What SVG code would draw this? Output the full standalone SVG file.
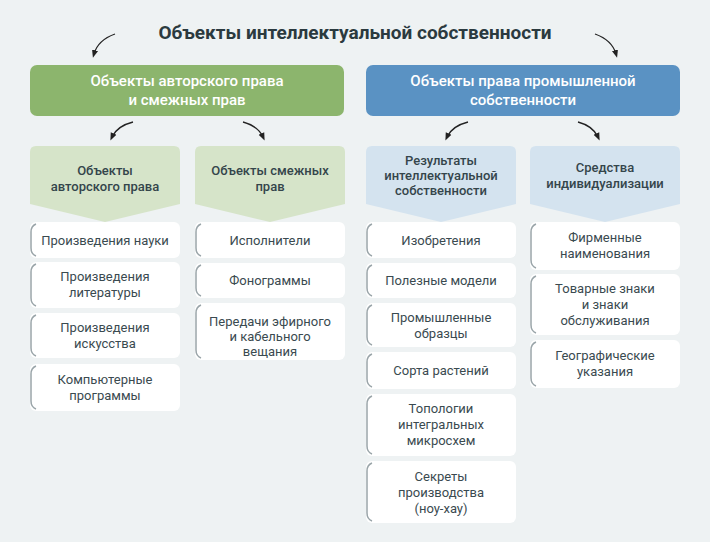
<svg xmlns="http://www.w3.org/2000/svg" width="710" height="542" viewBox="0 0 710 542">
<defs>
<marker id="ah" viewBox="0 0 10 10" refX="5" refY="5" markerWidth="6" markerHeight="6" orient="auto"><path d="M0,1 L10,5 L0,9 Z" fill="#222"/></marker>
<style>
text{font-family:"Roboto","Liberation Sans",sans-serif;text-anchor:middle}
.t{font-size:19px;font-weight:bold;fill:#2b3a3f}
.h{font-size:15px;font-weight:500;fill:#fff}
.p{font-size:13px;font-weight:500;fill:#34454b}
.c{font-size:13px;fill:#3a4a50}
.card{fill:#fff}
.lb{fill:none;stroke:#9aa5a9;stroke-width:1.5}
.ar{fill:none;stroke:#222;stroke-width:1.3;marker-end:url(#ah)}
</style>
</defs>
<rect width="710" height="542" fill="#eef2f3"/>
<g id="title"><text class="t" x="355" y="39">Объекты интеллектуальной собственности</text></g>
<g id="connectors">
<path class="ar" d="M115,34 Q98,40 94,54"/>
<path class="ar" d="M595,34 Q612,40 616,54"/>
<path class="ar" d="M133,122 Q117,126 112,137"/>
<path class="ar" d="M243,122 Q258,126 263,137"/>
<path class="ar" d="M468,122 Q452,126 447,137"/>
<path class="ar" d="M578,122 Q593,126 598,137"/>
</g>
<g id="green"><rect x="30" y="65" width="314" height="51" rx="7" fill="#8cb56d"/><text class="h" x="187" y="86">Объекты авторского права</text><text class="h" x="187" y="105">и смежных прав</text></g>
<g id="blue"><rect x="366" y="65" width="314" height="51" rx="7" fill="#5a92c3"/><text class="h" x="523" y="86">Объекты права промышленной</text><text class="h" x="523" y="105">собственности</text></g>
<g id="p1"><path d="M36,146 H174 Q180,146 180,152 V204 L105,222 L30,204 V152 Q30,146 36,146 Z" fill="#d6e4c9"/><text class="p" x="105" y="175">Объекты</text><text class="p" x="105" y="191">авторского права</text></g>
<g id="p2"><path d="M201,146 H339 Q345,146 345,152 V204 L270,222 L195,204 V152 Q195,146 201,146 Z" fill="#d6e4c9"/><text class="p" x="270" y="175">Объекты смежных</text><text class="p" x="270" y="191">прав</text></g>
<g id="p3"><path d="M372,146 H510 Q516,146 516,152 V204 L441,222 L366,204 V152 Q366,146 372,146 Z" fill="#d4e3ef"/><text class="p" x="441" y="165">Результаты</text><text class="p" x="441" y="180">интеллектуальной</text><text class="p" x="441" y="195">собственности</text></g>
<g id="p4"><path d="M536,146 H674 Q680,146 680,152 V204 L605,222 L530,204 V152 Q530,146 536,146 Z" fill="#d4e3ef"/><text class="p" x="605" y="172">Средства</text><text class="p" x="605" y="188">индивидуализации</text></g>
<g id="c1a"><rect class="card" x="30" y="222" width="150" height="36" rx="6"/><path class="lb" d="M36,224 Q31,226 31,232 V248 Q31,254 36,256"/><text class="c" x="105" y="245">Произведения науки</text></g>
<g id="c1b"><rect class="card" x="30" y="262" width="150" height="46" rx="6"/><path class="lb" d="M36,264 Q31,266 31,272 V298 Q31,304 36,306"/><text class="c" x="105" y="281">Произведения</text><text class="c" x="105" y="297">литературы</text></g>
<g id="c1c"><rect class="card" x="30" y="313" width="150" height="45" rx="6"/><path class="lb" d="M36,315 Q31,317 31,323 V348 Q31,354 36,356"/><text class="c" x="105" y="332">Произведения</text><text class="c" x="105" y="348">искусства</text></g>
<g id="c1d"><rect class="card" x="30" y="364" width="150" height="47" rx="6"/><path class="lb" d="M36,366 Q31,368 31,374 V401 Q31,407 36,409"/><text class="c" x="105" y="384">Компьютерные</text><text class="c" x="105" y="400">программы</text></g>
<g id="c2a"><rect class="card" x="195" y="222" width="150" height="36" rx="6"/><path class="lb" d="M201,224 Q196,226 196,232 V248 Q196,254 201,256"/><text class="c" x="270" y="245">Исполнители</text></g>
<g id="c2b"><rect class="card" x="195" y="263" width="150" height="35" rx="6"/><path class="lb" d="M201,265 Q196,267 196,273 V288 Q196,294 201,296"/><text class="c" x="270" y="285">Фонограммы</text></g>
<g id="c2c"><rect class="card" x="195" y="303" width="150" height="57" rx="6"/><path class="lb" d="M201,305 Q196,307 196,313 V350 Q196,356 201,358"/><text class="c" x="270" y="326">Передачи эфирного</text><text class="c" x="270" y="341">и кабельного</text><text class="c" x="270" y="356">вещания</text></g>
<g id="c3a"><rect class="card" x="366" y="222" width="150" height="36" rx="6"/><path class="lb" d="M372,224 Q367,226 367,232 V248 Q367,254 372,256"/><text class="c" x="441" y="245">Изобретения</text></g>
<g id="c3b"><rect class="card" x="366" y="263" width="150" height="35" rx="6"/><path class="lb" d="M372,265 Q367,267 367,273 V288 Q367,294 372,296"/><text class="c" x="441" y="285">Полезные модели</text></g>
<g id="c3c"><rect class="card" x="366" y="303" width="150" height="44" rx="6"/><path class="lb" d="M372,305 Q367,307 367,313 V337 Q367,343 372,345"/><text class="c" x="441" y="322">Промышленные</text><text class="c" x="441" y="338">образцы</text></g>
<g id="c3d"><rect class="card" x="366" y="352" width="150" height="37" rx="6"/><path class="lb" d="M372,354 Q367,356 367,362 V379 Q367,385 372,387"/><text class="c" x="441" y="375">Сорта растений</text></g>
<g id="c3e"><rect class="card" x="366" y="394" width="150" height="62" rx="6"/><path class="lb" d="M372,396 Q367,398 367,404 V446 Q367,452 372,454"/><text class="c" x="441" y="413">Топологии</text><text class="c" x="441" y="429">интегральных</text><text class="c" x="441" y="445">микросхем</text></g>
<g id="c3f"><rect class="card" x="366" y="461" width="150" height="62" rx="6"/><path class="lb" d="M372,463 Q367,465 367,471 V513 Q367,519 372,521"/><text class="c" x="441" y="481">Секреты</text><text class="c" x="441" y="497">производства</text><text class="c" x="441" y="513">(ноу-хау)</text></g>
<g id="c4a"><rect class="card" x="530" y="222" width="150" height="48" rx="6"/><path class="lb" d="M536,224 Q531,226 531,232 V260 Q531,266 536,268"/><text class="c" x="605" y="242">Фирменные</text><text class="c" x="605" y="258">наименования</text></g>
<g id="c4b"><rect class="card" x="530" y="274" width="150" height="61" rx="6"/><path class="lb" d="M536,276 Q531,278 531,284 V325 Q531,331 536,333"/><text class="c" x="605" y="293">Товарные знаки</text><text class="c" x="605" y="309">и знаки</text><text class="c" x="605" y="325">обслуживания</text></g>
<g id="c4c"><rect class="card" x="530" y="340" width="150" height="48" rx="6"/><path class="lb" d="M536,342 Q531,344 531,350 V378 Q531,384 536,386"/><text class="c" x="605" y="360">Географические</text><text class="c" x="605" y="376">указания</text></g>
</svg>
